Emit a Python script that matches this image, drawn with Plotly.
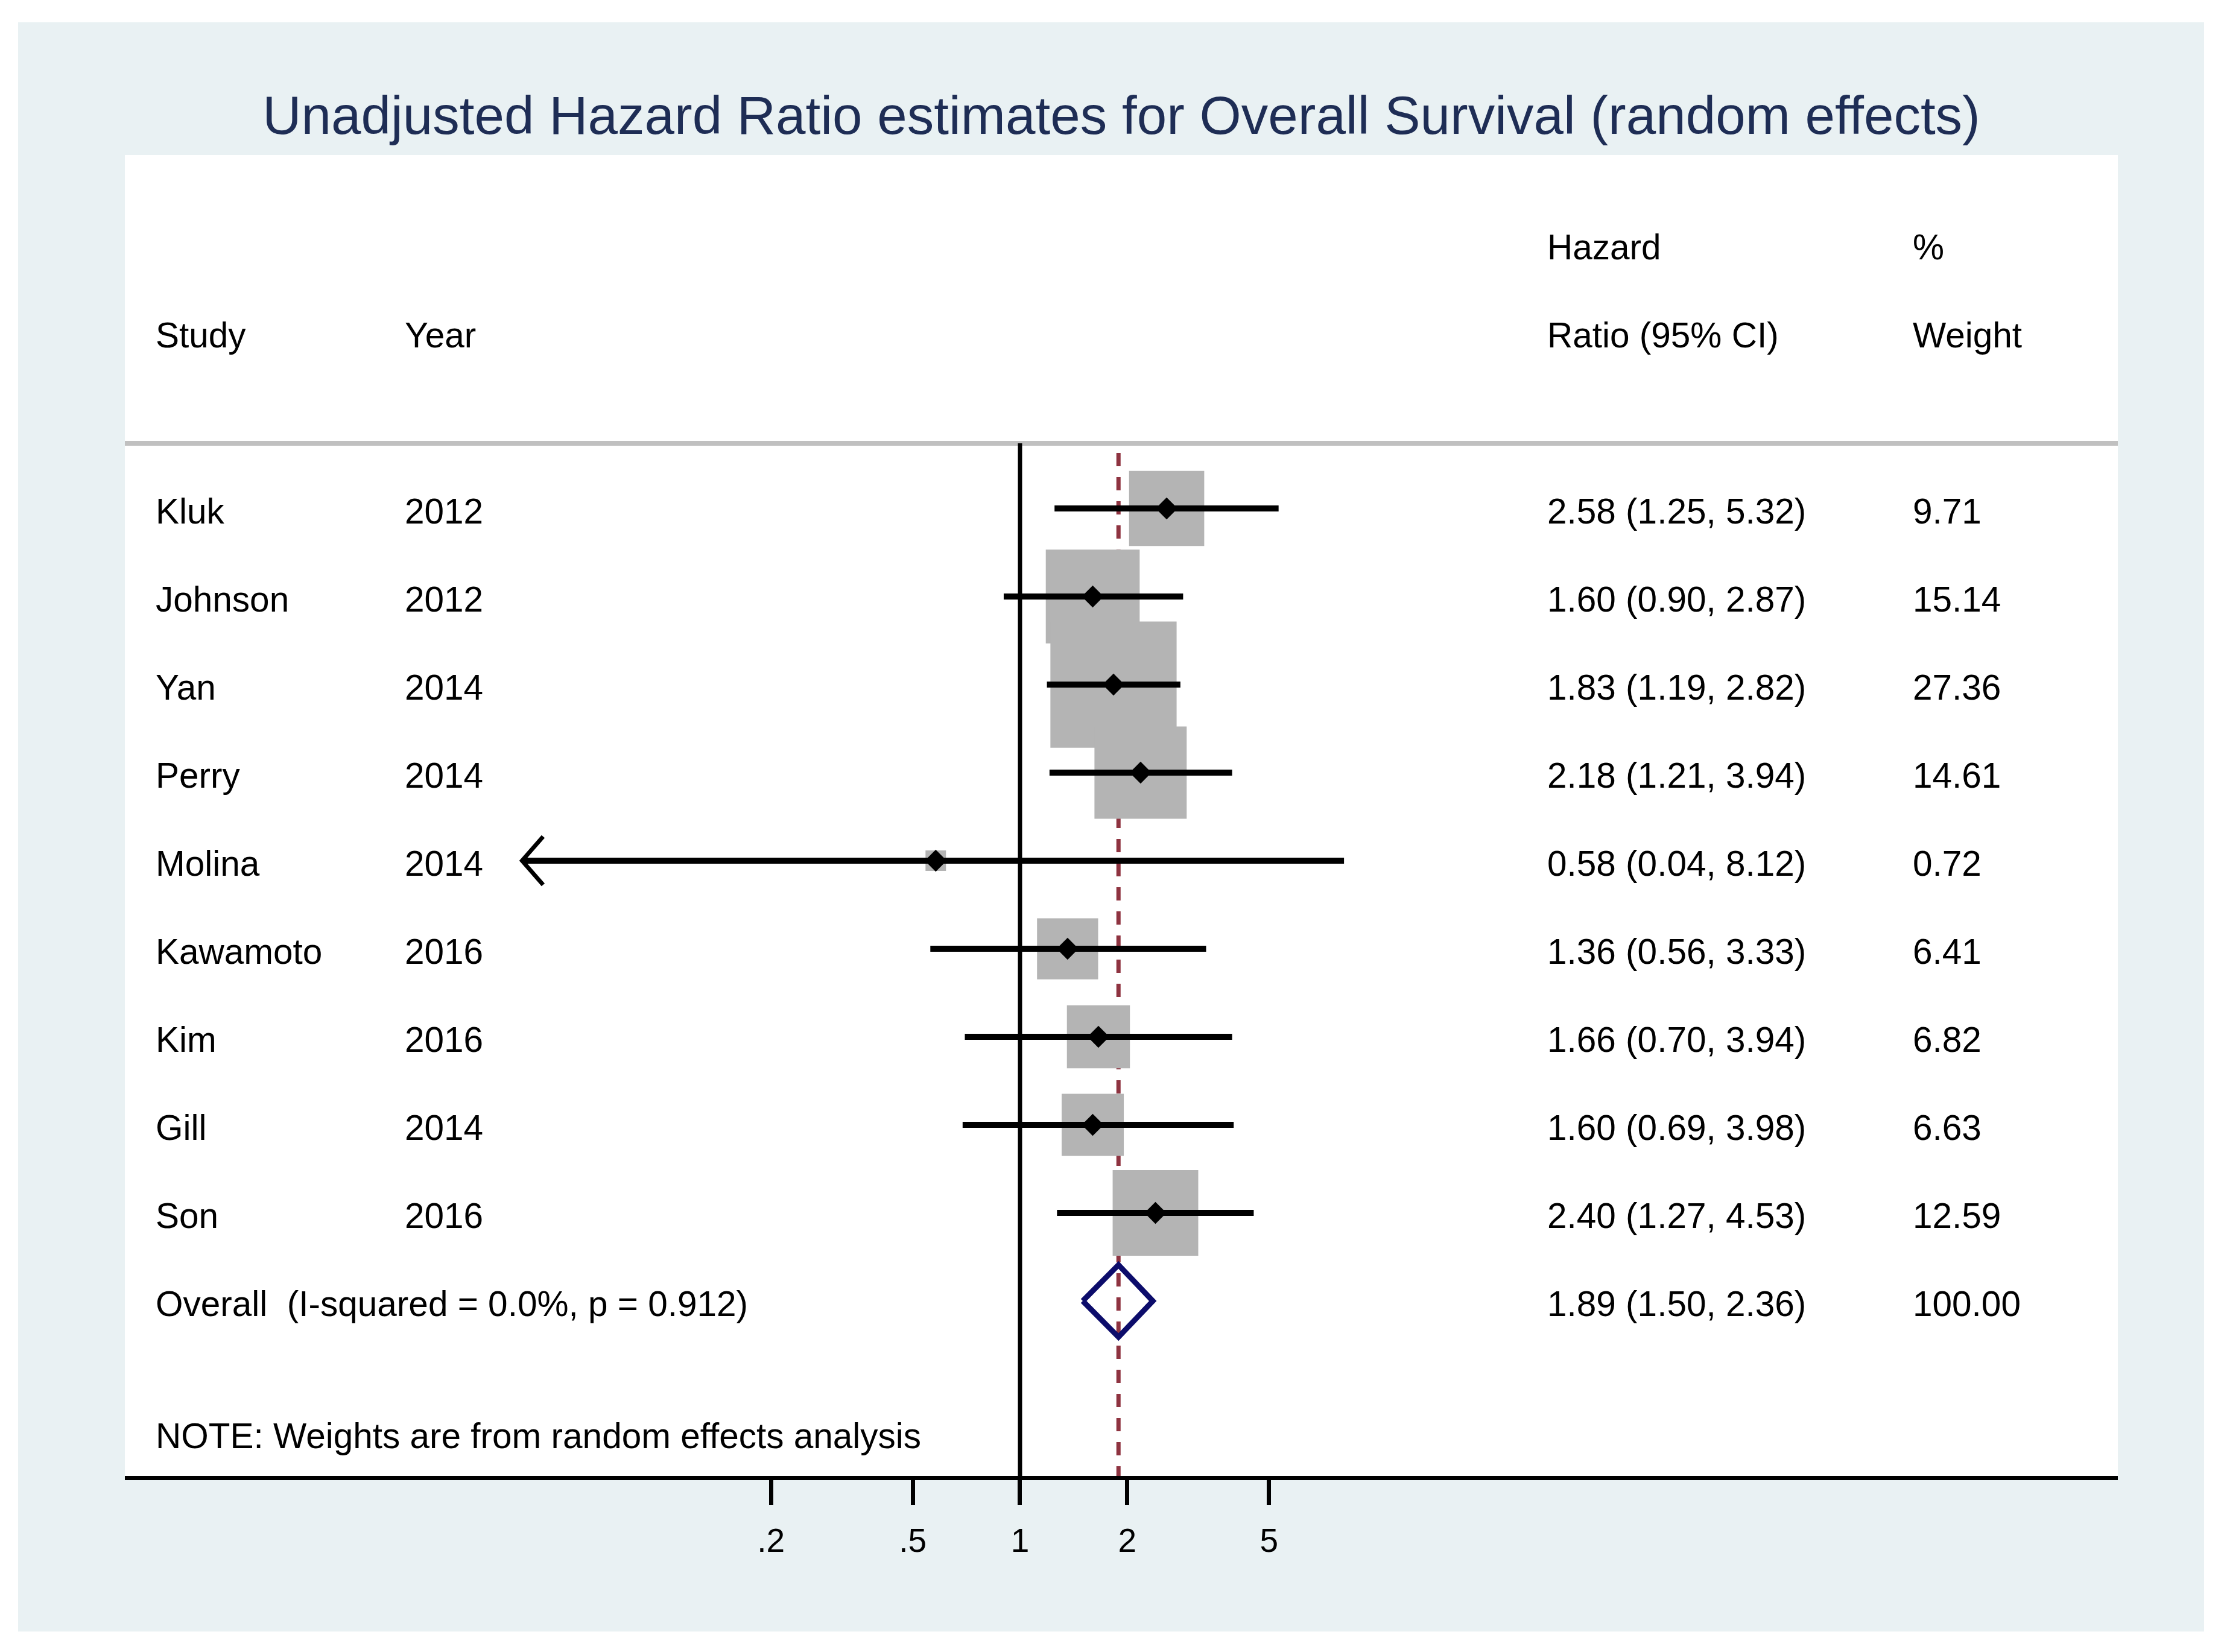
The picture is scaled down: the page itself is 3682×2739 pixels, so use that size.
import numpy as np
import plotly.graph_objects as go

# study level data
studies = ["Kluk", "Johnson", "Yan", "Perry", "Molina", "Kawamoto", "Kim", "Gill", "Son"]
years = [2012, 2012, 2014, 2014, 2014, 2016, 2016, 2014, 2016]
hr = [2.58, 1.60, 1.83, 2.18, 0.58, 1.36, 1.66, 1.60, 2.40]
ci_lo = [1.25, 0.90, 1.19, 1.21, 0.04, 0.56, 0.70, 0.69, 1.27]
ci_hi = [5.32, 2.87, 2.82, 3.94, 8.12, 3.33, 3.94, 3.98, 4.53]
weights = [9.71, 15.14, 27.36, 14.61, 0.72, 6.41, 6.82, 6.63, 12.59]

# pooled estimate
overall_hr = 1.89
overall_lo = 1.50
overall_hi = 2.36
overall_weight = 100.00
i_squared = 0.0
p_het = 0.912

tick_vals = [0.2, 0.5, 1, 2, 5]
tick_text = [".2", ".5", "1", "2", "5"]

title = "Unadjusted Hazard Ratio estimates for Overall Survival (random effects)"
note = "NOTE: Weights are from random effects analysis"

FONT = "Liberation Sans, Arial, Helvetica, sans-serif"
BG = "#e9f1f3"
# page is 3682x2739, the html body adds an 8px margin
OFF = 8
W, H = 3682 - 2 * OFF, 2739 - 2 * OFF
ML, MT = 207 - OFF, 257 - OFF
PW, PH = 3304, 2190
MR = W - ML - PW
MB = H - MT - PH

rows = list(range(1, len(studies) + 1))
overall_row = len(studies) + 1
note_row = overall_row + 1.5
sep_row = 0.26
y_bottom = 11.986
y_top = -3.014

fig = go.Figure()

# dashed line at pooled estimate and reference line at 1
fig.add_trace(go.Scatter(x=[overall_hr, overall_hr], y=[0.37, y_bottom], mode="lines",
                         line=dict(color="#8e3340", width=7, dash="22px,18px")))
fig.add_trace(go.Scatter(x=[1, 1], y=[sep_row, y_bottom], mode="lines",
                         line=dict(color="black", width=7)))

# weight boxes
fig.add_trace(go.Scatter(x=hr, y=rows, mode="markers",
                         marker=dict(symbol="square", color="#b4b4b4", opacity=1,
                                     size=[40 * np.sqrt(w) for w in weights],
                                     line=dict(width=0))))

# confidence intervals
cx, cy = [], []
for lo, hi, r in zip(ci_lo, ci_hi, rows):
    cx += [lo, hi, None]
    cy += [r, r, None]
fig.add_trace(go.Scatter(x=cx, y=cy, mode="lines", line=dict(color="black", width=10)))

# arrows for intervals running past the smallest tick
ax_, ay_ = [], []
for lo, r in zip(ci_lo, rows):
    if lo < min(tick_vals):
        ax_ += [lo * 1.146, lo, lo * 1.146, None]
        ay_ += [r - 0.274, r, r + 0.274, None]
fig.add_trace(go.Scatter(x=ax_, y=ay_, mode="lines", line=dict(color="black", width=7)))

# point estimates
fig.add_trace(go.Scatter(x=hr, y=rows, mode="markers",
                         marker=dict(symbol="diamond", color="black", size=28, opacity=1,
                                     line=dict(width=0))))

# pooled diamond
fig.add_trace(go.Scatter(x=[overall_lo, overall_hr, overall_hi, overall_hr, overall_lo],
                         y=[overall_row, overall_row - 0.41, overall_row, overall_row + 0.41, overall_row],
                         mode="lines", line=dict(color="#0c0c6b", width=9)))


def px_x(p):
    return (p - 207) / PW


col_study = px_x(256)
col_year = px_x(669)
col_hr = px_x(2563)
col_wt = px_x(3169)

annotations = []


def txt(x, y, s):
    annotations.append(dict(x=x, y=y, xref="paper", yref="y", text=s, showarrow=False,
                            xanchor="left", yanchor="middle", yshift=-4,
                            font=dict(family=FONT, size=58.5, color="black")))


txt(col_hr, -2, "Hazard")
txt(col_wt, -2, "%")
txt(col_study, -1, "Study")
txt(col_year, -1, "Year")
txt(col_hr, -1, "Ratio (95% CI)")
txt(col_wt, -1, "Weight")
for s, yr, e, lo, hi, w, r in zip(studies, years, hr, ci_lo, ci_hi, weights, rows):
    txt(col_study, r, s)
    txt(col_year, r, str(yr))
    txt(col_hr, r, f"{e:.2f} ({lo:.2f}, {hi:.2f})")
    txt(col_wt, r, f"{w:.2f}")
txt(col_study, overall_row, f"Overall  (I-squared = {i_squared:.1f}%, p = {p_het:.3f})")
txt(col_hr, overall_row, f"{overall_hr:.2f} ({overall_lo:.2f}, {overall_hi:.2f})")
txt(col_wt, overall_row, f"{overall_weight:.2f}")
txt(col_study, note_row, note)

# page pixel -> paper fraction (plot area: x 207..3511, y 257..2447 on the page)
shapes = [
    # outer light panel with thin white border
    dict(type="rect", xref="paper", yref="paper", layer="below",
         x0=(30 - 207) / PW, x1=(3654 - 207) / PW,
         y0=(2447 - 2705) / PH, y1=(2447 - 37) / PH,
         fillcolor=BG, line=dict(width=0)),
    # white plot region
    dict(type="rect", xref="paper", yref="paper", layer="below",
         x0=0, x1=1, y0=0, y1=1, fillcolor="white", line=dict(width=0)),
    # header separator
    dict(type="line", xref="paper", yref="y", layer="below",
         x0=0, x1=1, y0=sep_row, y1=sep_row, line=dict(color="#c0c0c0", width=8)),
]

fig.update_layout(
    width=W, height=H,
    margin=dict(l=ML, r=MR, t=MT, b=MB, pad=0),
    paper_bgcolor="white", plot_bgcolor="white",
    showlegend=False,
    title=dict(text=title, x=0.5, xref="paper", xanchor="center",
               y=1 - (191 - OFF) / H, yref="container", yanchor="middle",
               font=dict(family=FONT, size=89, color="#1e2d55")),
    xaxis=dict(type="log", range=[-2.513, 3.082], tickvals=tick_vals, ticktext=tick_text,
               showgrid=False, zeroline=False, showline=True, linecolor="black", linewidth=7,
               ticks="outside", ticklen=41, tickwidth=7, tickcolor="black",
               ticklabelstandoff=12,
               tickfont=dict(family=FONT, size=55, color="black")),
    yaxis=dict(range=[y_bottom, y_top], visible=False, showgrid=False, zeroline=False),
    shapes=shapes,
    annotations=annotations,
)

fig.write_html("out.html")
